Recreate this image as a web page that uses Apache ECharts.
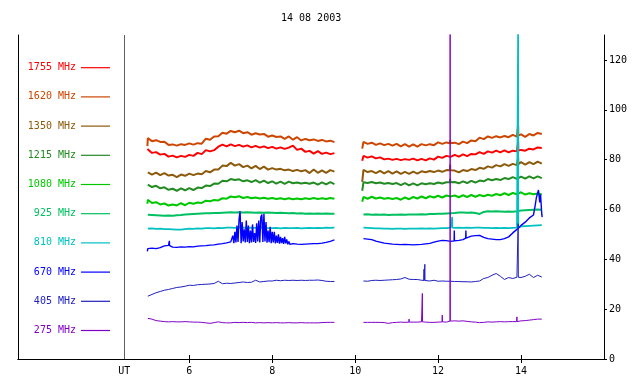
<!DOCTYPE html>
<html><head><meta charset="utf-8">
<script src="https://cdn.jsdelivr.net/npm/echarts@6/dist/echarts.min.js"></script>
<style>html,body{margin:0;padding:0;background:#fff}#c{width:640px;height:384px}</style>
</head><body><div id="c"></div>
<script>
// ---- data ----
const titleText = '14 08 2003';
const channels = ['1755 MHz','1620 MHz','1350 MHz','1215 MHz','1080 MHz','925 MHz','810 MHz','670 MHz','405 MHz','275 MHz'];
const seg1Start = 5.0, seg1Count = 46, seg2Start = 10.2, seg2Count = 44, gridStep = 0.1, gapTime = 9.85;
const xTickValues = [6, 8, 10, 12, 14];
const utLabelPos = 4.43;
const yTickValues = [0, 20, 40, 60, 80, 100, 120];

const s1755 = [83.9,82.7,83.0,82.0,82.3,81.2,81.6,80.9,81.5,81.1,81.9,81.5,82.7,82.2,83.8,83.3,83.8,85.2,86.0,85.3,86.1,85.4,85.9,85.2,85.7,84.9,85.5,84.8,85.3,84.6,85.1,84.4,84.9,84.3,84.8,85.6,83.9,84.4,83.1,83.5,82.4,83.4,82.3,82.8,82.2,82.6,
 81.5,80.8,81.3,80.5,80.9,80.1,80.4,79.9,80.3,79.8,80.2,79.9,80.4,79.7,80.3,79.7,80.5,80.0,81.2,80.7,81.5,81.1,81.9,81.2,82.1,81.4,82.3,82.1,83.0,82.3,83.3,82.8,83.6,82.9,83.7,82.9,83.6,83.3,83.9,83.6,84.4,84.1,84.9,84.7];
const s1620 = [88.6,87.4,87.8,87.1,87.2,85.9,86.1,85.6,86.2,85.9,86.5,86.0,86.6,86.4,88.4,88.0,89.3,89.4,90.8,90.4,91.5,91.0,91.6,90.6,91.0,90.0,90.6,90.1,90.3,89.2,89.7,89.1,89.3,88.3,89.3,88.0,89.0,87.7,88.3,87.8,88.1,87.5,87.9,87.3,87.6,87.0,
 87.1,86.3,86.8,85.9,86.5,85.8,86.3,85.6,86.3,85.3,86.2,85.2,86.1,85.2,86.2,85.7,86.2,85.8,86.9,86.3,86.9,86.2,86.8,86.2,87.2,86.6,87.7,87.4,88.8,88.2,89.3,88.7,89.4,88.9,89.5,89.0,89.9,89.2,90.1,89.1,90.3,89.7,90.7,90.3];
const s1350 = [74.9,74.0,74.8,73.8,74.6,73.6,73.9,73.0,74.0,73.5,74.4,73.8,74.4,74.1,75.4,74.9,76.0,76.0,77.6,77.4,78.7,77.6,78.2,77.0,77.6,76.5,77.5,76.2,77.2,76.0,76.6,76.0,76.3,75.7,76.0,75.4,75.9,75.3,75.8,74.6,76.0,74.7,75.7,74.7,75.8,75.2,
 75.9,75.0,75.4,74.6,75.5,74.5,75.4,74.4,75.3,74.3,75.1,74.3,75.2,74.4,75.3,74.9,75.4,75.0,75.6,75.1,75.8,75.4,75.6,74.9,75.8,75.4,76.2,75.8,76.7,76.3,77.3,76.8,77.8,77.3,78.2,77.5,78.3,77.8,79.0,78.0,79.0,78.2,79.2,78.4];
const s1215 = [70.0,69.0,69.5,68.5,68.9,67.9,68.3,67.5,68.5,67.7,68.6,67.8,68.8,68.6,69.6,69.4,70.4,70.3,71.5,71.3,72.2,71.8,72.1,71.3,71.7,71.0,71.8,70.8,71.6,70.6,71.3,70.4,71.2,70.3,71.2,70.5,70.8,70.4,70.7,70.3,70.8,70.0,70.9,70.1,71.0,70.2,
 70.9,70.6,71.0,70.5,70.8,70.3,70.6,70.2,70.6,69.8,70.6,69.7,70.5,69.7,70.5,70.1,70.5,70.2,70.8,70.4,70.9,70.6,71.0,70.5,71.3,70.6,71.5,70.8,71.6,71.3,72.2,71.7,72.2,71.8,72.6,72.2,73.0,72.3,73.2,72.4,73.3,72.5,73.3,72.6];
const s1080 = [63.9,62.6,62.9,62.0,62.4,61.6,62.0,61.6,62.5,61.7,62.7,62.3,62.8,62.6,63.5,63.3,63.8,63.6,64.5,64.3,65.2,64.9,65.3,64.6,65.0,64.5,64.8,64.4,64.7,64.3,64.6,64.2,64.5,64.1,64.5,64.1,64.4,64.1,64.5,64.2,64.6,64.2,64.5,64.2,64.6,64.3,
 65.0,64.3,65.1,64.4,64.8,64.3,64.6,64.2,64.6,63.9,64.8,64.1,65.0,64.4,65.2,64.5,65.3,64.8,65.5,64.8,65.6,65.2,65.6,64.9,65.7,65.0,65.8,65.1,65.8,65.3,65.9,65.5,66.2,65.7,66.5,65.8,66.6,66.1,66.9,66.0,66.5,66.1,66.4,66.0];
const s925 = [57.9,57.8,57.7,57.6,57.5,57.6,57.5,57.7,57.8,58.0,58.1,58.2,58.3,58.4,58.5,58.5,58.6,58.6,58.7,58.8,58.9,58.8,58.9,58.8,58.9,58.8,58.7,58.8,58.7,58.8,58.7,58.6,58.7,58.6,58.5,58.6,58.4,58.5,58.3,58.4,58.3,58.4,58.3,58.4,58.3,58.3,
 58.0,58.1,57.9,58.0,57.9,58.0,57.8,57.9,57.9,58.0,57.9,58.0,58.0,58.0,58.1,58.0,58.2,58.2,58.3,58.3,58.4,58.5,58.6,58.8,58.8,58.7,58.8,58.6,58.2,59.0,59.3,59.2,59.3,59.2,59.1,59.2,59.1,59.3,59.6,59.7,59.8,59.9,60.0,59.9];
const s810 = [52.3,52.4,52.2,52.3,52.1,52.1,52.0,51.9,51.9,52.1,52.3,52.2,52.4,52.3,52.5,52.5,52.4,52.6,52.5,52.7,52.7,52.6,52.8,52.7,52.6,52.7,52.6,52.8,52.6,52.5,52.5,52.6,52.4,52.6,52.5,52.5,52.6,52.4,52.5,52.6,52.5,52.6,52.5,52.7,52.6,52.7,
 52.7,52.6,52.5,52.4,52.4,52.3,52.3,52.2,52.3,52.3,52.2,52.3,52.3,52.3,52.4,52.3,52.4,52.3,52.4,52.5,52.5,52.7,52.6,52.7,52.6,52.7,52.6,52.7,52.7,52.6,52.6,52.5,52.6,52.5,52.6,52.5,52.6,52.7,53.2,53.3,53.4,53.5,53.6,53.7];
const s670 = [44.3,44.5,44.3,44.7,45.4,45.6,44.9,44.8,45.0,44.9,45.1,45.0,45.3,45.4,45.5,45.7,45.8,46.1,46.3,46.6,
 null,null,null,null,null,null,null,null,null,null,null,null,null,null,null,46.3,46.1,46.0,46.1,46.2,46.3,46.3,46.5,46.8,47.2,47.8,
 48.3,48.1,47.9,47.3,46.9,46.5,46.3,46.1,46.0,45.9,46.0,45.9,45.8,45.9,46.0,46.2,46.4,46.9,47.3,47.6,47.5,47.2,47.4,47.6,47.9,48.7,49.3,49.5,49.6,48.8,48.3,48.1,47.9,47.9,48.3,49.0,50.6,52.0,53.6,54.9,56.6,57.8,65.5,58.0];
const s405 = [25.2,25.9,26.6,27.1,27.6,27.9,28.3,28.7,28.9,29.2,29.6,29.5,29.8,29.9,30.0,30.1,30.3,31.2,30.2,30.4,30.3,30.5,30.7,30.9,30.7,30.8,31.6,30.9,31.1,31.3,31.3,31.6,31.4,31.6,31.5,31.6,31.5,31.6,31.5,31.6,31.6,31.7,31.5,31.2,31.1,31.1,
 31.3,31.2,31.5,31.6,31.5,31.6,31.7,31.8,31.9,32.1,32.7,32.0,31.9,31.9,31.6,31.5,31.3,31.6,31.2,31.3,31.2,31.2,31.1,31.1,31.0,31.0,30.9,31.1,31.3,32.3,32.7,33.6,34.3,33.2,31.9,32.7,32.3,32.8,32.7,33.2,34.0,32.7,33.6,32.9];
const s275 = [16.3,16.0,15.4,15.2,15.0,14.9,15.0,14.9,14.9,15.0,14.9,14.8,14.8,14.7,14.5,14.3,14.6,14.9,14.6,14.5,14.5,14.7,14.6,14.7,14.6,14.7,14.5,14.6,14.5,14.6,14.5,14.6,14.5,14.5,14.6,14.5,14.5,14.6,14.5,14.5,14.5,14.5,14.6,14.7,14.7,14.7,
 14.7,14.7,14.7,14.7,14.7,14.6,14.3,14.6,14.7,14.8,14.7,14.8,14.8,14.8,14.9,14.8,14.7,14.7,14.8,14.9,14.8,15.2,15.3,15.2,15.3,15.1,14.9,14.8,14.6,14.7,14.9,14.8,14.9,15.0,14.9,15.0,15.0,15.1,15.3,15.4,15.6,15.8,16.0,16.0];

// 670 MHz burst (7.0 h to 8.45 h, every 0.025 h)
const burst670Start = 7.0, burst670Step = 0.025;
const burst670 = [47.0,46.2,49.5,46.5,51.0,46.8,53.5,47.0,56.0,59.3,46.5,55.0,47.2,52.0,46.8,55.6,47.0,53.5,46.5,51.5,46.8,54.0,47.0,50.5,46.6,54.5,47.2,55.6,46.8,57.0,58.0,47.0,58.3,47.2,55.0,46.7,51.5,46.9,53.0,46.5,51.0,46.8,51.0,46.4,49.5,46.6,50.0,46.3,49.0,46.5,48.5,46.2,49.0,46.4,48.0,46.0,47.2,46.0,46.5];

// extra single points [time, value]
const ext1755 = [[4.99,84.3],[10.17,79.5]];
const ext1620 = [[4.99,85.4],[10.17,84.4]];
const ext1350 = [[10.17,71.1]];
const ext1215 = [[10.17,67.5]];
const ext1080 = [[4.99,62.3],[10.17,63.1]];
const ext925 = [];
const ext810 = [];
const ext670 = [[4.99,43.2],[14.34,61.5],[14.37,64.8],[14.42,67.8],[14.45,62.8],[14.47,66.0],[14.51,56.9]];
const ext405 = [[5.03,24.6]];
const ext275 = [];

// spikes [time, base, peak]
const sp1755 = [[13.93,83.6,87.3]];
const sp1620 = [[12.29,86.6,87.8],[13.93,89.6,94.0]];
const sp1350 = [[12.29,75.7,78.0],[13.93,78.1,81.0]];
const sp1215 = [[12.29,70.9,72.3]];
const sp1080 = [];
const sp925 = [];
const sp810 = [[12.34,52.7,57.0],[13.93,52.7,140]];
const sp670 = [[5.52,45.5,47.4],[12.39,47.4,51.6],[12.67,48.5,51.6]];
const sp405 = [[11.66,31.5,36.0],[11.68,31.5,38.0],[13.93,32.8,54.3]];
const sp275 = [[11.3,14.8,16.0],[11.62,14.9,26.3],[12.10,14.9,17.6],[12.29,15.2,140],[13.9,15.0,16.9]];

// ---- styles ----
const palette = ['#ff0000','#cc4600','#8c5a0a','#228b22','#00c800','#00c060','#00c0c0','#0000ff','#2020c0','#8000c8'];
const widths = [2,2,2,2,2,2,1.6,1.4,1,1];
const FONT = 'DejaVu Sans Mono';

const r3 = v => Math.round(v*1000)/1000;
function build(vals, extras, spikes, burst) {
  const pts = [];
  for (let i = 0; i < seg1Count; i++) { const v = vals[i]; if (v != null) pts.push([r3(seg1Start + i*gridStep), v]); }
  for (let j = 0; j < seg2Count; j++) { const v = vals[seg1Count + j]; if (v != null) pts.push([r3(seg2Start + j*gridStep), v]); }
  extras.forEach(p => pts.push([p[0], p[1]]));
  spikes.forEach(s => { pts.push([s[0]-0.004, s[1]]); pts.push([s[0], s[2]]); pts.push([s[0]+0.004, s[1]]); });
  if (burst) burst.forEach((v, k) => pts.push([r3(burst670Start + k*burst670Step), v]));
  pts.push([gapTime, null]);
  pts.sort((a, b) => a[0] - b[0]);
  return pts;
}
const allVals = [s1755,s1620,s1350,s1215,s1080,s925,s810,s670,s405,s275];
const allExt = [ext1755,ext1620,ext1350,ext1215,ext1080,ext925,ext810,ext670,ext405,ext275];
const allSp = [sp1755,sp1620,sp1350,sp1215,sp1080,sp925,sp810,sp670,sp405,sp275];

const series = channels.map((name, i) => ({
  name, type: 'line', xAxisIndex: 0, yAxisIndex: 0,
  data: build(allVals[i], allExt[i], allSp[i], i === 7 ? burst670 : null),
  showSymbol: false, symbol: 'none', connectNulls: false, clip: true,
  lineStyle: { color: palette[i], width: widths[i] }, itemStyle: { color: palette[i] },
  emphasis: { disabled: true }, silent: true,
  markLine: i === 0 ? { silent: true, symbol: 'none', label: { show: false },
    lineStyle: { color: '#606060', width: 1, type: 'solid' }, data: [{ xAxis: utLabelPos }] } : undefined
}));

const legends = channels.map((name, i) => ({
  data: [{ name, textStyle: { color: palette[i] } }],
  orient: 'vertical', right: 530, top: 61.7 + i*29.2, padding: 0,
  align: 'right', icon: 'rect', itemWidth: 29, itemHeight: 1.2, selectedMode: false,
  textStyle: { fontFamily: FONT, fontSize: 10, lineHeight: 12, color: palette[i] },
  itemStyle: { color: palette[i] }
}));

const chart = echarts.init(document.getElementById('c'), null, { renderer: 'canvas' });
chart.setOption({
  animation: false,
  backgroundColor: '#fff',
  title: { text: titleText, left: 281, top: 12, padding: 0,
    textStyle: { fontFamily: FONT, fontSize: 10, fontWeight: 'normal', color: '#000', lineHeight: 12 } },
  legend: legends,
  grid: { left: 18, right: 36, top: 35, bottom: 25, containLabel: false },
  xAxis: [
    { type: 'value', position: 'bottom', min: 1.87, max: 16,
      axisLine: { show: true, lineStyle: { color: '#000', width: 1 } },
      axisTick: { show: true, inside: true, length: 4, customValues: xTickValues, lineStyle: { color: '#000' } },
      axisLabel: { show: true, margin: 7, customValues: [utLabelPos].concat(xTickValues),
        formatter: v => (v < 5 ? 'UT' : String(v)), fontFamily: FONT, fontSize: 10, color: '#000' },
      splitLine: { show: false } },
    { type: 'value', position: 'top', min: 1.87, max: 16,
      axisLine: { show: true, lineStyle: { color: '#000', width: 1 } },
      axisTick: { show: true, inside: true, length: 4, customValues: xTickValues, lineStyle: { color: '#000' } },
      axisLabel: { show: false }, splitLine: { show: false } }
  ],
  yAxis: [
    { type: 'value', position: 'right', min: 0, max: 130,
      axisLine: { show: true, lineStyle: { color: '#000', width: 1 } },
      axisTick: { show: true, inside: false, length: 3, customValues: yTickValues, lineStyle: { color: '#000' } },
      axisLabel: { show: true, margin: 5, customValues: yTickValues, fontFamily: FONT, fontSize: 10, color: '#000' },
      splitLine: { show: false } },
    { type: 'value', position: 'left', min: 0, max: 130,
      axisLine: { show: true, lineStyle: { color: '#000', width: 1 } },
      axisTick: { show: false }, axisLabel: { show: false }, splitLine: { show: false } }
  ],
  series
});
</script></body></html>
